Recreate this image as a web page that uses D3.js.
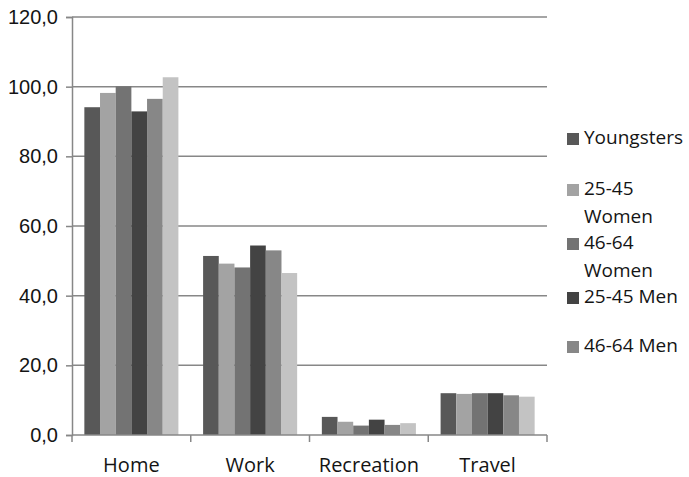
<!DOCTYPE html>
<html>
<head>
<meta charset="utf-8">
<script src="https://cdn.jsdelivr.net/npm/d3@7"></script>
<style>
  html, body { margin: 0; padding: 0; background: #fff; }
  svg { display: block; font-family: "Open Sans", "Noto Sans", sans-serif; }
</style>
</head>
<body>
<svg width="689" height="477"></svg>
<script>
const categories = ["Home", "Work", "Recreation", "Travel"];
const seriesNames = ["Youngsters", "25-45 Women", "46-64 Women", "25-45 Men", "46-64 Men", "65+"];
// one array per series, in category order
const youngsters = [94.1, 51.4, 5.2, 12.0];
const women2545 = [98.2, 49.2, 3.8, 11.8];
const women4664 = [100.1, 48.1, 2.7, 12.0];
const men2545 = [92.9, 54.4, 4.4, 12.0];
const men4664 = [96.5, 53.0, 2.9, 11.4];
const elderly = [102.7, 46.5, 3.4, 11.0];
const yTicks = [0, 20, 40, 60, 80, 100, 120];
// legend in the source shows only the first five lines of text
const legendLines = [["Youngsters"], ["25-45", "Women"], ["46-64", "Women"], ["25-45 Men"], ["46-64 Men"]];

const seriesValues = [youngsters, women2545, women4664, men2545, men4664, elderly];
const colors = ["#585858", "#a3a3a3", "#737373", "#434343", "#878787", "#c3c3c3"];

const svg = d3.select("svg");
const margin = { top: 17, right: 142, bottom: 42, left: 72 };
const width = +svg.attr("width"), height = +svg.attr("height");
const fontSize = "20px";
const textColor = "#141414";

const x0 = d3.scaleBand()
  .domain(categories)
  .range([margin.left, width - margin.right])
  .paddingInner(0.208)
  .paddingOuter(0.104);

const x1 = d3.scaleBand()
  .domain(d3.range(seriesNames.length))
  .range([0, x0.bandwidth()]);

const y = d3.scaleLinear()
  .domain([0, 120])
  .range([height - margin.bottom, margin.top]);

const axisColor = "#878787";
const fmt = d => d3.format(".1f")(d).replace(".", ",");

// Gridlines
svg.append("g")
  .selectAll("line")
  .data(yTicks.filter(d => d > 0))
  .join("line")
  .attr("x1", margin.left)
  .attr("x2", width - margin.right)
  .attr("y1", d => y(d))
  .attr("y2", d => y(d))
  .attr("stroke", axisColor)
  .attr("stroke-width", 1.5);

// Bars
const groups = svg.append("g")
  .selectAll("g")
  .data(categories)
  .join("g")
  .attr("transform", d => `translate(${x0(d)},0)`);

groups.selectAll("rect")
  .data((c, ci) => seriesValues.map((vals, si) => ({ si, v: vals[ci] })))
  .join("rect")
  .attr("x", d => x1(d.si))
  .attr("width", x1.bandwidth())
  .attr("y", d => y(d.v))
  .attr("height", d => y(0) - y(d.v))
  .attr("fill", d => colors[d.si]);

// Y axis
const yAxis = svg.append("g")
  .attr("transform", `translate(${margin.left},0)`)
  .call(d3.axisLeft(y).tickValues(yTicks).tickFormat(fmt).tickSize(6).tickPadding(8));
yAxis.select(".domain").attr("stroke", axisColor).attr("stroke-width", 1.5);
yAxis.selectAll(".tick line").attr("stroke", axisColor).attr("stroke-width", 1.5);
yAxis.selectAll(".tick text")
  .attr("fill", textColor)
  .style("font-size", fontSize);

// X axis with ticks at category boundaries
const xAxis = svg.append("g")
  .attr("transform", `translate(0,${y(0)})`);
xAxis.append("line")
  .attr("x1", margin.left)
  .attr("x2", width - margin.right)
  .attr("stroke", axisColor)
  .attr("stroke-width", 1.5);
const step = x0.step();
xAxis.selectAll("line.tk")
  .data(d3.range(categories.length + 1))
  .join("line")
  .attr("class", "tk")
  .attr("x1", i => margin.left + i * step)
  .attr("x2", i => margin.left + i * step)
  .attr("y1", 0)
  .attr("y2", 7)
  .attr("stroke", axisColor)
  .attr("stroke-width", 1.5);
xAxis.selectAll("text")
  .data(categories)
  .join("text")
  .attr("x", d => x0(d) + x0.bandwidth() / 2)
  .attr("y", 37)
  .attr("text-anchor", "middle")
  .attr("fill", textColor)
  .style("font-size", fontSize)
  .text(d => d);

// Legend
const legendY = [137, 188, 242, 296, 345];
const legend = svg.append("g").attr("transform", "translate(567,0)");
legendLines.forEach((lines, i) => {
  const g = legend.append("g").attr("transform", `translate(0,${legendY[i]})`);
  g.append("rect")
    .attr("x", 0).attr("y", -4)
    .attr("width", 12).attr("height", 12)
    .attr("fill", colors[i]);
  const t = g.append("text")
    .attr("x", 17)
    .attr("y", 7)
    .attr("fill", textColor)
    .style("font-size", "19px");
  lines.forEach((ln, j) => {
    t.append("tspan").attr("x", 17).attr("dy", j === 0 ? 0 : 28).text(ln);
  });
});
</script>
</body>
</html>
